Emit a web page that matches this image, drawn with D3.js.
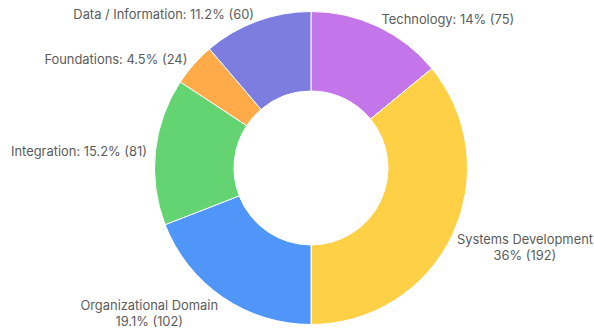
<!DOCTYPE html>
<html>
<head>
<meta charset="utf-8">
<script src="https://cdn.jsdelivr.net/npm/d3@7"></script>
<style>
  html, body { margin: 0; padding: 0; background: #fff; }
  svg { display: block; }
  .lbl { font-family: Inter, "Open Sans", Arial, sans-serif; font-size: 12.9px; fill: #5c5c5c; }
</style>
</head>
<body>
<svg id="chart" width="594" height="331"></svg>
<script>
// Track categories, clockwise from 12 o'clock
const categories = ["Technology", "Systems Development", "Organizational Domain", "Integration", "Foundations", "Data / Information"];
const counts = [75, 192, 102, 81, 24, 60];
const percentLabels = ["14%", "36%", "19.1%", "15.2%", "4.5%", "11.2%"];
const colors = ["#c475ea", "#fed045", "#4f96f8", "#63d471", "#ffab49", "#7d7de0"];
// Labels shown on two lines (name, then share)
const twoLineLabels = ["Systems Development", "Organizational Domain"];

const width = 594, height = 331;
const cx = 311, cy = 168;
const outerR = 156.5, innerR = 77, labelR = 165;

const svg = d3.select("#chart");
const g = svg.append("g").attr("transform", `translate(${cx},${cy})`);

const rows = categories.map((c, i) => ({ name: c, value: counts[i], pct: percentLabels[i], color: colors[i] }));

const pie = d3.pie().value(d => d.value).sort(null);
const arc = d3.arc().innerRadius(innerR).outerRadius(outerR);
const arcs = pie(rows);

g.selectAll("path.slice")
  .data(arcs)
  .join("path")
  .attr("class", "slice")
  .attr("d", arc)
  .attr("fill", d => d.data.color)
  .attr("stroke", "#ffffff")
  .attr("stroke-width", 1);

// Labels sit just outside the ring at each slice's mid angle
g.selectAll("text.lbl")
  .data(arcs)
  .join("text")
  .attr("class", "lbl")
  .each(function(d) {
    const a = (d.startAngle + d.endAngle) / 2;
    const x = labelR * Math.sin(a);
    const y = -labelR * Math.cos(a);
    const right = x >= 0;
    const t = d3.select(this);
    const name = d.data.name;
    if (twoLineLabels.includes(name)) {
      t.attr("text-anchor", "middle");
      const line1 = t.append("tspan").attr("dominant-baseline", "central").text(name);
      const line2 = t.append("tspan").attr("dominant-baseline", "central").text(`${d.data.pct} (${d.data.value})`);
      // Block's outer edge meets the anchor point; both lines centred in it
      const w = Math.max(line1.node().getComputedTextLength(), line2.node().getComputedTextLength());
      let midX = right ? x + w / 2 : x - w / 2;
      const maxMid = width - cx - w / 2 - 1;
      if (midX > maxMid) midX = maxMid;
      line1.attr("x", midX).attr("y", y + 1);
      line2.attr("x", midX).attr("y", y + 17.5);
    } else {
      t.attr("x", x).attr("y", y + 1)
        .attr("dominant-baseline", "central")
        .attr("text-anchor", right ? "start" : "end")
        .text(`${name}: ${d.data.pct} (${d.data.value})`);
    }
  });
</script>
</body>
</html>
